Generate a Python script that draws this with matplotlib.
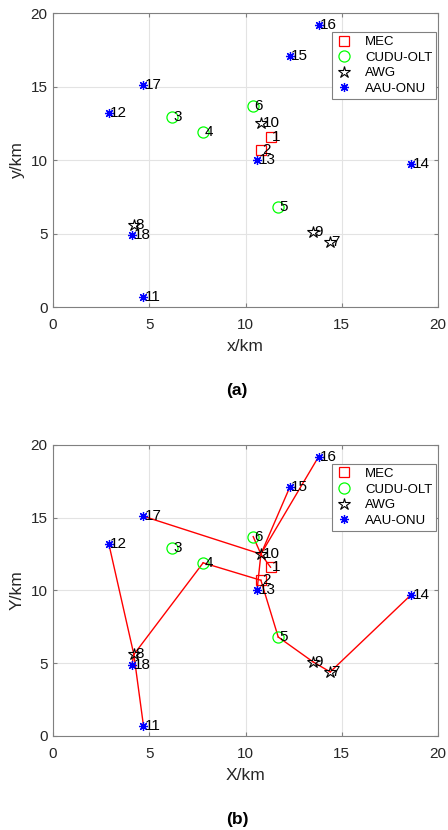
import matplotlib
matplotlib.use("Agg")
import matplotlib.pyplot as plt

plt.rcParams['font.family'] = ['Liberation Sans', 'DejaVu Sans']

# node coordinates (km), nodes numbered 1..18
node_x = [11.3, 10.8, 6.2, 7.8, 11.7, 10.4, 14.4, 4.2, 13.5, 10.8,
          4.7, 2.9, 10.6, 18.6, 12.3, 13.8, 4.7, 4.1]
node_y = [11.6, 10.7, 12.9, 11.9, 6.8, 13.7, 4.4, 5.6, 5.1, 12.5,
          0.7, 13.2, 10.0, 9.7, 17.1, 19.2, 15.1, 4.9]

mec_ids = [1, 2]
olt_ids = [3, 4, 5, 6]
awg_ids = [7, 8, 9, 10]
onu_ids = [11, 12, 13, 14, 15, 16, 17, 18]

# links shown in panel (b)
links = [(11, 8), (12, 8), (18, 8), (8, 4), (4, 2),
         (13, 10), (15, 10), (16, 10), (17, 10), (10, 6), (10, 1),
         (14, 7), (7, 9), (9, 5), (5, 2)]

ticks = [0, 5, 10, 15, 20]
grey = '#808080'


def draw(ax, with_links, xlab, ylab):
    if with_links:
        for a, b in links:
            ax.plot([node_x[a-1], node_x[b-1]], [node_y[a-1], node_y[b-1]],
                    'r-', lw=1.0, zorder=2)

    def pts(ids):
        return [node_x[i-1] for i in ids], [node_y[i-1] for i in ids]

    x, y = pts(mec_ids)
    ax.plot(x, y, 's', ms=6.5, mfc='none', mec='r', mew=0.9, ls='none', label='MEC', zorder=3)
    x, y = pts(olt_ids)
    ax.plot(x, y, 'o', ms=8, mfc='none', mec=(0, 1, 0), mew=0.9, ls='none', label='CUDU-OLT', zorder=3)
    x, y = pts(awg_ids)
    ax.plot(x, y, '*', ms=9, mfc='none', mec='k', mew=0.8, ls='none', label='AWG', zorder=3)
    x, y = pts(onu_ids)
    ax.plot(x, y, marker=(8, 2, 0), ms=6.5, color='b', mew=0.9, ls='none', label='AAU-ONU', zorder=3)

    for i in range(len(node_x)):
        ax.text(node_x[i] + 0.08, node_y[i], str(i + 1), fontsize=11,
                va='center', ha='left', color='k', zorder=4)

    ax.set_xlim(0, 20)
    ax.set_ylim(0, 20)
    ax.set_xticks(ticks)
    ax.set_yticks(ticks)
    ax.grid(True, color='#e3e3e3', lw=0.8)
    ax.set_axisbelow(True)
    for s in ax.spines.values():
        s.set_color(grey)
        s.set_linewidth(0.8)
    ax.tick_params(direction='in', length=3, color=grey, labelsize=11,
                   labelcolor='#262626', top=True, right=True)
    ax.tick_params(axis='x', pad=8)
    ax.tick_params(axis='y', pad=4)
    ax.set_xlabel(xlab, fontsize=12.5, color='#262626', labelpad=5)
    ax.set_ylabel(ylab, fontsize=12.5, color='#262626', labelpad=4)
    leg = ax.legend(loc='upper right', bbox_to_anchor=(0.995, 0.935), fontsize=9.5,
                    fancybox=False, framealpha=1, edgecolor=grey,
                    handlelength=1.2, borderpad=0.3, labelspacing=0.25,
                    handletextpad=1.0, borderaxespad=0.0)
    leg.get_frame().set_linewidth(0.8)


fig = plt.figure(figsize=(4.48, 8.3), dpi=100)
ax1 = fig.add_axes([0.1183, 0.6301, 0.8594, 0.3542])
ax2 = fig.add_axes([0.1183, 0.1133, 0.8594, 0.3506])

draw(ax1, False, 'x/km', 'y/km')
draw(ax2, True, 'X/km', 'Y/km')

fig.text(0.529, 1 - 390 / 830, '(a)', fontsize=12.5, fontweight='bold', ha='center', va='center')
fig.text(0.529, 1 - 819 / 830, '(b)', fontsize=12.5, fontweight='bold', ha='center', va='center')

fig.savefig('out.png', dpi=100)
